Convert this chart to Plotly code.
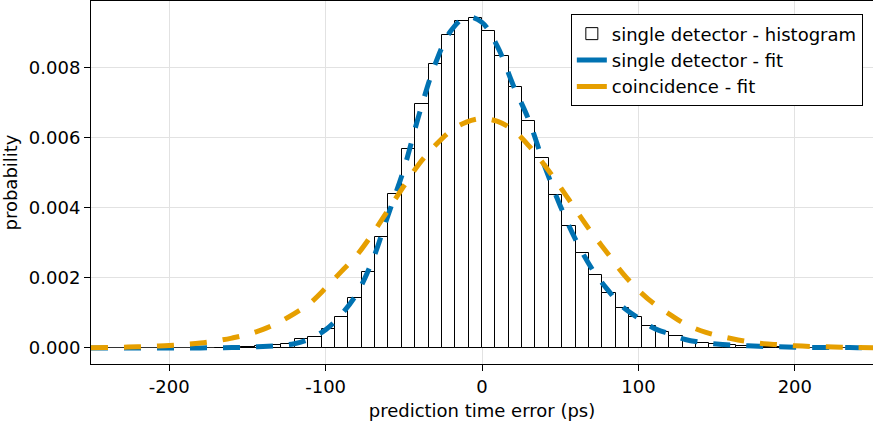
import numpy as np
import plotly.graph_objects as go

# Histogram of single-detector prediction time errors (ps)
bin_width = 8.55
bin_index = list(range(-20, 24))          # bin k spans [k*w, (k+1)*w)
hist_prob = [
    0.00001, 0.00002, 0.00003, 0.00005, 0.00008, 0.00010, 0.00025, 0.00031,
    0.00055, 0.00089, 0.00142, 0.00217, 0.00316, 0.00439, 0.00569, 0.00698,
    0.00811, 0.00894, 0.00934, 0.00942, 0.00904, 0.00835, 0.00745, 0.00648,
    0.00542, 0.00436, 0.00347, 0.00272, 0.00209, 0.00158, 0.00114, 0.00088,
    0.00063, 0.00046, 0.00034, 0.00020, 0.00015, 0.00011, 0.00008, 0.00005,
    0.00004, 0.00003, 0.00002, 0.00001,
]

# Fitted curves sampled every 10 ps
fit_x = list(range(-250, 251, 10))
single_fit = [
    0.0, 0.0, 0.0, 0.0, 0.0, 0.0, 0.0, 0.0,
    0.000003, 0.00001, 0.00002, 0.00004, 0.00007, 0.00012, 0.00026, 0.00052,
    0.00095, 0.00155, 0.00250, 0.00380, 0.00510, 0.00670, 0.00810, 0.00905,
    0.00945, 0.00930, 0.00860, 0.00750, 0.00650, 0.00520, 0.00406, 0.00308,
    0.00228, 0.00168, 0.00117, 0.00085, 0.00056, 0.00040, 0.00024, 0.00016,
    0.00011, 0.00008, 0.00006, 0.00004, 0.00003, 0.00002, 0.00001, 0.00001,
    0.00001, 0.000005, 0.0,
]
coinc_fit = [
    0.000003, 0.00001, 0.00002, 0.00003, 0.00005, 0.00007, 0.00010, 0.00014,
    0.00020, 0.00028, 0.00038, 0.00053, 0.00073, 0.00098, 0.00128, 0.00171,
    0.00218, 0.00265, 0.00326, 0.00394, 0.00462, 0.00527, 0.00578, 0.00620,
    0.00645, 0.00655, 0.00647, 0.00622, 0.00577, 0.00522, 0.00460, 0.00394,
    0.00330, 0.00272, 0.00213, 0.00165, 0.00126, 0.00096, 0.00068, 0.00049,
    0.00036, 0.00026, 0.00018, 0.00012, 0.00009, 0.00006, 0.00004, 0.00003,
    0.00002, 0.00001, 0.000005,
]

x_ticks = [-200, -100, 0, 100, 200]
x_tick_text = ["-200", "-100", "0", "100", "200"]
y_ticks = [0.0, 0.002, 0.004, 0.006, 0.008]
y_tick_text = ["0.000", "0.002", "0.004", "0.006", "0.008"]

BLUE = "#0072B2"
ORANGE = "#E69F00"
FONT = "DejaVu Sans"

bin_centers = (np.array(bin_index) + 0.5) * bin_width

fig = go.Figure()
fig.add_trace(go.Bar(
    x=bin_centers, y=hist_prob, width=bin_width,
    marker=dict(color="white", line=dict(color="black", width=1)),
    name="single detector - histogram",
))
fig.add_trace(go.Scatter(
    x=fit_x, y=single_fit, mode="lines", line_shape="spline",
    line=dict(color=BLUE, width=5, dash="17px,16px"),
    showlegend=False,
))
fig.add_trace(go.Scatter(
    x=fit_x, y=coinc_fit, mode="lines", line_shape="spline",
    line=dict(color=ORANGE, width=5, dash="17px,16px"),
    showlegend=False,
))
# legend entries with solid line keys
fig.add_trace(go.Scatter(
    x=[None], y=[None], mode="lines", line=dict(color=BLUE, width=5),
    name="single detector - fit",
))
fig.add_trace(go.Scatter(
    x=[None], y=[None], mode="lines", line=dict(color=ORANGE, width=5),
    name="coincidence - fit",
))

axis_common = dict(
    showgrid=True, gridcolor="#e2e2e2", gridwidth=1,
    showline=True, linecolor="black", linewidth=1, mirror=True,
    ticks="outside", ticklen=6, tickcolor="black", tickwidth=1,
    tickfont=dict(family=FONT, size=18, color="black"),
)

fig.update_layout(
    width=873, height=426,
    margin=dict(l=91, r=0, t=1, b=62),
    paper_bgcolor="white", plot_bgcolor="white",
    font=dict(family=FONT, size=18, color="black"),
    bargap=0,
    xaxis=dict(
        range=[-250, 250], tickvals=x_ticks, ticktext=x_tick_text,
        zeroline=False,
        title=dict(text="prediction time error (ps)", font=dict(family=FONT, size=18), standoff=8),
        **axis_common,
    ),
    yaxis=dict(
        range=[-0.00046, 0.00991], tickvals=y_ticks, ticktext=y_tick_text,
        zeroline=True, zerolinecolor="#333333", zerolinewidth=1,
        title=dict(text="probability", font=dict(family=FONT, size=18), standoff=8),
        **axis_common,
    ),
    legend=dict(
        x=0.987, y=0.963, xanchor="right", yanchor="top",
        bgcolor="white", bordercolor="black", borderwidth=1,
        font=dict(family=FONT, size=18, color="black"),
    ),
)

fig.write_html("out.html")
